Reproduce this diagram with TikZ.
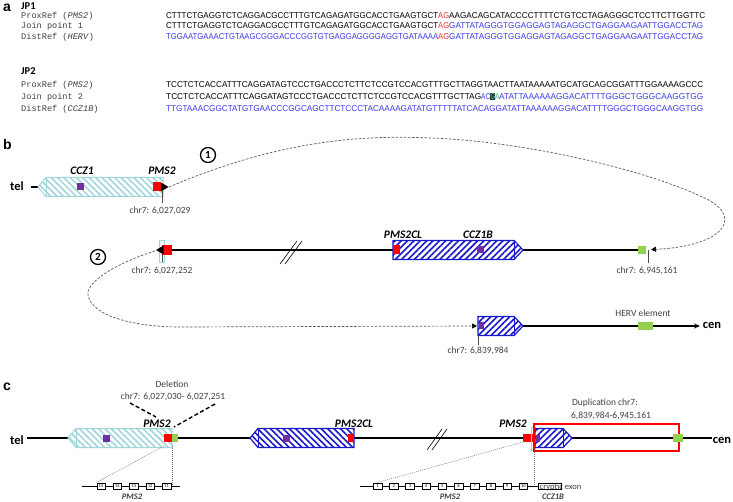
\documentclass[tikz,border=0pt]{standalone}
\usepackage{fontspec}
\setmainfont{Carlito}
\newfontfamily\seqfont{Liberation Sans}
\newfontfamily\reffont{Liberation Mono}
\usetikzlibrary{patterns.meta,arrows.meta}
\definecolor{ltblue}{RGB}{158,212,218}
\definecolor{geneblue}{RGB}{24,24,200}
\definecolor{purp}{RGB}{112,48,160}
\definecolor{grn}{RGB}{146,208,80}
\definecolor{seqblue}{RGB}{58,58,238}
\definecolor{seqred}{RGB}{238,48,48}
\definecolor{boxteal}{RGB}{20,60,60}
\definecolor{seqgreen}{RGB}{60,180,110}

\begin{document}
\begin{tikzpicture}[x=1pt,y=-1pt]
	\tikzset{panel/.style={font=\seqfont\fontsize{14}{14}\selectfont\bfseries, inner sep=0pt, anchor=base west},
		title/.style={font=\fontsize{10.5}{11}\selectfont\bfseries, inner sep=0pt, anchor=base west},
		reflab/.style={font=\reffont\fontsize{8.6}{9}\selectfont, inner sep=0pt, anchor=base west, text=black!75},
		seq/.style={inner sep=0pt, anchor=base west},
		gene/.style={font=\fontsize{11.5}{12}\selectfont\bfseries\itshape, inner sep=0pt},
		small gene/.style={font=\fontsize{8.5}{9}\selectfont\bfseries\itshape, inner sep=0pt, text=black!75},
		coord/.style={font=\fontsize{9.5}{10}\selectfont, inner sep=0pt, text=black!75},
		endlab/.style={font=\fontsize{12.5}{13}\selectfont\bfseries, inner sep=0pt},
		jnum/.style={circle, draw, line width=1.3pt, minimum size=15pt, inner sep=0pt, font=\fontsize{11}{11}\selectfont\bfseries},
		ltgene/.style={draw=ltblue, line width=1pt, preaction={fill=white}, pattern={Lines[angle=-45,distance=4.5pt,line width=1.5pt]}, pattern color=ltblue},
		bluene/.style={draw=geneblue, line width=1.2pt, preaction={fill=white}, pattern={Lines[angle=45,distance=4.5pt,line width=1.6pt]}, pattern color=geneblue},
		bluenw/.style={draw=geneblue, line width=1.2pt, preaction={fill=white}, pattern={Lines[angle=-45,distance=4.5pt,line width=1.6pt]}, pattern color=geneblue},
		loopline/.style={line width=0.7pt, black!65, dash pattern=on 2.5pt off 1.6pt},
		looptip/.style={-{Triangle[length=5pt,width=5pt,black]}},
		zoomline/.style={line width=0.5pt, black!55, dash pattern=on 1pt off 1pt},
		delline/.style={line width=1.4pt, dash pattern=on 4pt off 2.5pt},
		exonbox/.style={draw, line width=0.5pt, fill=white, minimum width=8.5pt, minimum height=6.5pt, inner sep=0pt, font=\fontsize{4.5}{5}\selectfont},
		tickline/.style={line width=0.7pt, black!70},
		chrom/.style={line width=1.2pt}}
	\def\seqbox#1#2{\resizebox{#1pt}{\height}{\seqfont\fontsize{8.5}{9}\selectfont #2}}
	\def\boxright#1#2#3#4#5{\draw[#4] (#1,#3-9.5) -- (#2-9,#3-9.5) -- (#2,#3) -- (#2-9,#3+9.5) -- (#1,#3+9.5) -- cycle;
		\draw[#5, line width=1pt] (#2-9,#3-9.5) -- (#2-9,#3+9.5);}
	\def\boxleft#1#2#3#4#5{\draw[#4] (#1,#3) -- (#1+8,#3-9.5) -- (#2,#3-9.5) -- (#2,#3+9.5) -- (#1+8,#3+9.5) -- cycle;
		\draw[#5, line width=1pt] (#1+8,#3-9.5) -- (#1+8,#3+9.5);}
	\useasboundingbox (0,0) rectangle (733,502);
	
	\node[panel] (pa) at (3,12) {a};
	\node[title] (jp1) at (21,10) {JP1};
	\node[reflab] (r11) at (21,18.5) {ProxRef (\textit{PMS2})};
	\node[reflab] (r12) at (21,29) {Join point 1};
	\node[reflab] (r13) at (21,39.5) {DistRef (\textit{HERV})};
	\node[seq] (s11) at (166,18.5) {\seqbox{272}{CTTTCTGAGGTCTCAGGACGCCTTTGTCAGAGATGGCACCTGAAGTGCT}};
	\node[seq, text=seqred] (s12) at (438,18.5) {\seqbox{11}{AG}};
	\node[seq] (s13) at (449,18.5) {\seqbox{256}{AAGACAGCATACCCCTTTTCTGTCCTAGAGGGCTCCTTCTTGGTTC}};
	\node[seq] (s21) at (166,29) {\seqbox{272}{CTTTCTGAGGTCTCAGGACGCCTTTGTCAGAGATGGCACCTGAAGTGCT}};
	\node[seq, text=seqred] (s22) at (438,29) {\seqbox{11}{AG}};
	\node[seq, text=seqblue] (s23) at (449,29) {\seqbox{254}{GATTATAGGGTGGAGGAGTAGAGGCTGAGGAAGAATTGGACCTAG}};
	\node[seq, text=seqblue] (s31) at (166,39.5) {\seqbox{272}{TGGAATGAAACTGTAAGCGGGACCCGGTGTGAGGAGGGGAGGTGATAAAA}};
	\node[seq, text=seqred] (s32) at (438,39.5) {\seqbox{11}{AG}};
	\node[seq, text=seqblue] (s33) at (449,39.5) {\seqbox{254}{GATTATAGGGTGGAGGAGTAGAGGCTGAGGAAGAATTGGACCTAG}};
	
	\node[title] (jp2) at (21,75) {JP2};
	\node[reflab] (r21) at (21,87.5) {ProxRef (\textit{PMS2})};
	\node[reflab] (r22) at (21,99.5) {Join point 2};
	\node[reflab] (r23) at (21,111.5) {DistRef (\textit{CCZ1B})};
	\node[seq] (t11) at (166,87.5) {\seqbox{537}{TCCTCTCACCATTTCAGGATAGTCCCTGACCCTCTTCTCCGTCCACGTTTGCTTAGGTAACTTAATAAAAATGCATGCAGCGGATTTGGAAAAGCCC}};
	\node[seq] (t21) at (166,99.5) {\seqbox{315}{TCCTCTCACCATTTCAGGATAGTCCCTGACCCTCTTCTCCGTCCACGTTTGCTTAG}};
	\node[seq, text=seqblue] (t22) at (481,99.5) {\seqbox{9}{AC}};
	\node[seq, fill=boxteal, text=seqgreen!70!white, inner sep=0.3pt] (t23) at (490,99.5) {\seqbox{4.5}{G}};
	\node[seq, text=seqgreen] (t24) at (494.8,99.5) {\seqbox{4.5}{A}};
	\node[seq, text=seqblue] (t25) at (499,99.5) {\seqbox{204}{ATATTAAAAAAGGACATTTTGGGCTGGGCAAGGTGG}};
	\node[seq, text=seqblue] (t31) at (166,111.5) {\seqbox{537}{TTGTAAACGGCTATGTGAACCCGGCAGCTTCTCCCTACAAAAGATATGTTTTTATCACAGGATATTAAAAAAGGACATTTTGGGCTGGGCAAGGTGG}};
	
	\node[panel] (pb) at (3,150) {b};
	\node[jnum] (n1) at (208,155) {1};
	\node[jnum] (n2) at (98,257) {2};
	\node[endlab] (tel1) at (17,186) {tel};
	\draw[chrom] (31,187) -- (38,187);
	\boxleft{38}{163}{187}{ltgene}{ltblue}
	\fill[purp] (76.5,183.5) rectangle (83.5,190.5);
	\fill[red] (153,182.5) rectangle (161,191.5);
	\fill (161,182.5) -- (168.5,187) -- (161,191.5) -- cycle;
	\draw[tickline] (162,191.5) -- (162,203);
	\node[gene] (ccz1) at (82,171) {CCZ1};
	\node[gene] (pms2a) at (162,171) {PMS2};
	\node[coord] (c029) at (160,211) {chr7: 6,027,029};
	
	\draw[ltblue, line width=0.8pt] (159.5,240) rectangle (164.5,262);
	\draw[tickline] (162,250) -- (162,262);
	\draw[chrom] (172,250) -- (646,250);
	\draw[line width=0.6pt] (280,264) -- (297,241) (285,264) -- (302,241);
	\boxright{393}{523}{250}{bluene}{geneblue}
	\fill[red] (393,245.5) rectangle (400,254.5);
	\fill[purp] (476.5,246.5) rectangle (483.5,253.5);
	\fill[red] (162,245.5) rectangle (172,255);
	\fill (163.5,245.5) -- (156,250) -- (163.5,254.5) -- cycle;
	\fill[grn] (638,246) rectangle (646,254);
	\draw[tickline] (648,250) -- (648,263);
	\node[gene] (pms2cl) at (403,235) {PMS2CL};
	\node[gene] (ccz1b) at (478,235) {CCZ1B};
	\node[coord] (c252) at (162,271) {chr7: 6,027,252};
	\node[coord] (c161) at (647,271) {chr7: 6,945,161};
	
	\boxright{478}{523}{326}{bluene}{geneblue}
	\fill[purp] (479,322) rectangle (483.5,329.5);
	\draw[tickline] (478,336) -- (478,345);
	\draw[chrom, -{Stealth[length=6pt,width=5pt]}] (523,326) -- (700,326);
	\fill[grn] (638,322) rectangle (653,330);
	\node[coord] (herv) at (643,313) {HERV element};
	\node[endlab] (cen1) at (712,325) {cen};
	\node[coord] (c984) at (478,351) {chr7: 6,839,984};
	
	\coordinate (p1s) at (169,187);
	\coordinate (p1e) at (651,249.5);
	\coordinate (p2s) at (155,251);
	\coordinate (p2e) at (477,326);
	\draw[loopline, looptip] (p1s) .. controls (280,140) and (360,135) .. (430,138) .. controls (520,141) and (640,168) .. (700,196) .. controls (745,214) and (728,246) .. (p1e);
	\draw[loopline, looptip] (p2s) .. controls (110,265) and (85,285) .. (88,295) .. controls (92,318) and (140,327) .. (180,327) -- (p2e);
	
	\node[panel] (pc) at (3,390) {c};
	\node[endlab] (tel2) at (17,440) {tel};
	\draw[chrom] (27,438) -- (712,438);
	\boxleft{68}{172}{438}{ltgene}{ltblue}
	\fill[purp] (102.5,434.5) rectangle (109.5,441.5);
	\fill[red] (164,434) rectangle (172,442);
	\fill[grn] (172,434) rectangle (178,442);
	\node[gene] (pms2b) at (157,424) {PMS2};
	\node[coord] (del) at (172,384) {Deletion};
	\node[coord] (delr) at (173,397) {chr7: 6,027,030- 6,027,251};
	\draw[delline] (130,403) -- (156,417);
	\draw[delline] (215,404) -- (174,427);
	
	\boxleft{250}{354}{438}{bluenw}{geneblue}
	\fill[purp] (282.5,434.5) rectangle (289.5,441.5);
	\fill[red] (348,434) rectangle (354,442);
	\node[gene] (pms2cl2) at (354,424) {PMS2CL};
	\draw[line width=0.6pt] (427,450) -- (442,429) (432,450) -- (447,429);
	
	\node[gene] (pms2c) at (513,424) {PMS2};
	\fill[red] (523,434) rectangle (533,442);
	\draw[ltblue, line width=0.8pt] (531.5,427) rectangle (535.5,450);
	\boxright{535}{572}{438}{bluene}{geneblue}
	\fill[purp] (536,434.5) rectangle (540,441.5);
	\draw[red, line width=1.6pt] (534,424) rectangle (679,451);
	\fill[grn] (673,434) rectangle (683,442);
	\node[endlab] (cen2) at (722,440) {cen};
	\node[coord] (dup) at (605,403) {Duplication chr7:};
	\node[coord] (dupr) at (611,416) {6,839,984-6,945,161};
	
	\draw[line width=0.8pt] (82,486) -- (180,486);
	\foreach \n [count=\i from 0] in {15,14,13,12,11}{
		\node[exonbox] (ex\n) at ({101+16.4*\i},486) {\n};
	}
	\node[small gene] (pms2x) at (132,497) {PMS2};
	\draw[zoomline] (164,446) -- (ex15.north west);
	\draw[zoomline] (172,446) -- (172,486);
	
	\draw[line width=0.8pt] (360,486) -- (538,486);
	\foreach \n [count=\i from 0] in {1,...,10}{
		\node[exonbox] (ey\n) at ({377.5+16.2*\i},486) {\n};
	}
	\node[exonbox, minimum width=23pt, anchor=west] (cry) at (538,486) {};
	\node[coord, font=\fontsize{8.5}{9}\selectfont, anchor=base west] (cryt) at (539.5,489) {cryptic exon};
	\node[small gene] (pms2y) at (450,497) {PMS2};
	\node[small gene] (ccz1bx) at (553,497) {CCZ1B};
	\draw[zoomline] (523,442) -- (ey1.north);
	\draw[zoomline] (534,450) -- (534,486);
\end{tikzpicture}
\end{document}
